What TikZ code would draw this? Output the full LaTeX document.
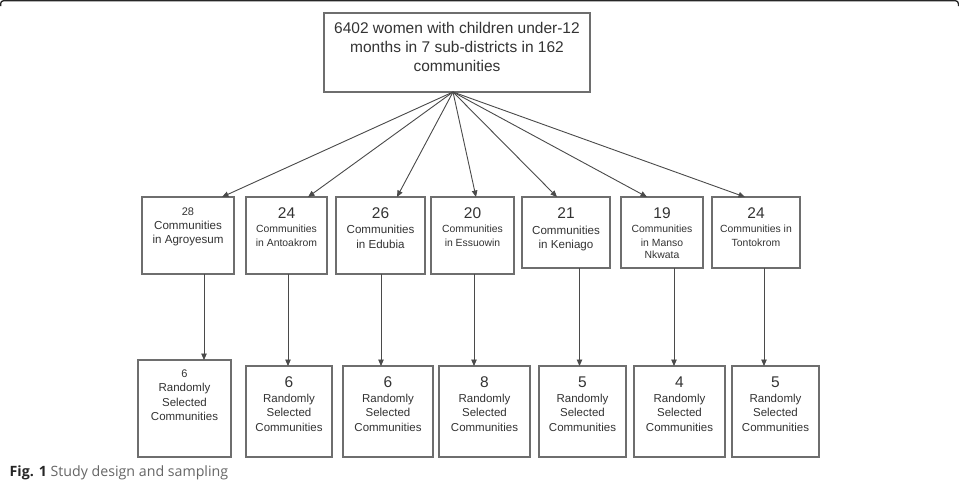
\documentclass[tikz,border=0pt]{standalone}
\usepackage{fontspec}
\setmainfont{Liberation Sans}
\newfontfamily\capfont{Open Sans}
\usetikzlibrary{arrows.meta}
\definecolor{boxc}{HTML}{6E6E6E}
\definecolor{linec}{HTML}{4A4A4A}
\definecolor{txtc}{HTML}{333333}
\definecolor{capc}{HTML}{666666}
\begin{document}
\begin{tikzpicture}[x=1pt,y=-1pt,
  box/.style={draw=boxc, line width=1.1pt, rectangle, inner sep=0pt, outer sep=0pt, anchor=north west},
  tl/.style={anchor=base, inner sep=0pt, text=txtc, font=\fontsize{#1}{#1}\selectfont},
  arr/.style={draw=linec, line width=0.9pt, -{Triangle[length=6.5pt,width=5.5pt]}},
]
\useasboundingbox (0,0) rectangle (959,480);
\clip (0,0) rectangle (959,480);
\fill[white] (0,0) rectangle (959,480);
% frame edge at top
\draw[line width=1.3pt, black!85, rounded corners=3pt] (0.6,6) -- (0.6,0.7) -- (958.4,0.7) -- (958.4,6);

% top box
\node[box, minimum width=266pt, minimum height=79pt] (top) at (324,13) {};
\node[tl=15.5] (t1) at (457,33.5) {6402 women with children under-12};
\node[tl=15.5] (t2) at (457,52.5) {months in 7 sub-districts in 162};
\node[tl=15.5] (t3) at (457,71.5) {communities};
\coordinate (apex) at ([xshift=-4pt]top.south);

% middle boxes
\node[box, minimum width=92pt, minimum height=77pt] (m1) at (142,197) {};
\node[box, minimum width=81pt, minimum height=77pt] (m2) at (246,197) {};
\node[box, minimum width=89pt, minimum height=77pt] (m3) at (336,197) {};
\node[box, minimum width=83pt, minimum height=77pt] (m4) at (431,197) {};
\node[box, minimum width=88pt, minimum height=71pt] (m5) at (522,197) {};
\node[box, minimum width=82pt, minimum height=71pt] (m6) at (621,197) {};
\node[box, minimum width=88pt, minimum height=71pt] (m7) at (712,197) {};

\node[tl=11] (m1a) at (188,215) {28};
\node[tl=11.6] (m1b) at (188,229) {Communities};
\node[tl=11.6] (m1c) at (188,243) {in Agroyesum};

\node[tl=15.5] (m2a) at (286.5,218.5) {24};
\node[tl=10.4] (m2b) at (286.5,232.7) {Communities};
\node[tl=10.4] (m2c) at (286.5,246) {in Antoakrom};

\node[tl=15.5] (m3a) at (380.5,218.5) {26};
\node[tl=11.6] (m3b) at (380.5,233) {Communities};
\node[tl=11.6] (m3c) at (380.5,248) {in Edubia};

\node[tl=15.5] (m4a) at (472.5,218.5) {20};
\node[tl=10.4] (m4b) at (472.5,232.7) {Communities};
\node[tl=10.4] (m4c) at (472.5,246) {in Essuowin};

\node[tl=15.5] (m5a) at (566,218.5) {21};
\node[tl=11.6] (m5b) at (566,234) {Communities};
\node[tl=11.6] (m5c) at (566,248) {in Keniago};

\node[tl=15.5] (m6a) at (662,218.5) {19};
\node[tl=10.4] (m6b) at (662,232.7) {Communities};
\node[tl=10.4] (m6c) at (662,246) {in Manso};
\node[tl=10.4] (m6d) at (662,258.5) {Nkwata};

\node[tl=15.5] (m7a) at (756,218.5) {24};
\node[tl=10.4] (m7b) at (756,232.7) {Communities in};
\node[tl=10.4] (m7c) at (756,246) {Tontokrom};

% bottom boxes
\node[box, minimum width=93pt, minimum height=97pt] (b1) at (138,360) {};
\node[box, minimum width=86pt, minimum height=91pt] (b2) at (246,366) {};
\node[box, minimum width=90pt, minimum height=91pt] (b3) at (343,366) {};
\node[box, minimum width=91pt, minimum height=91pt] (b4) at (439,366) {};
\node[box, minimum width=87pt, minimum height=91pt] (b5) at (539,366) {};
\node[box, minimum width=91pt, minimum height=91pt] (b6) at (634,366) {};
\node[box, minimum width=87pt, minimum height=91pt] (b7) at (732,366) {};

\node[tl=11] (b1a) at (184.5,377) {6};
\node[tl=11.5] (b1b) at (184.5,391) {Randomly};
\node[tl=11.5] (b1c) at (184.5,406) {Selected};
\node[tl=11.5] (b1d) at (184.5,420) {Communities};

\foreach \n/\cx/\v in {2/289/6, 3/388/6, 4/484.5/8, 5/582.5/5, 6/679.5/4, 7/775.5/5}{
  \node[tl=15.5] (b\n a) at (\cx,387.5) {\v};
  \node[tl=11.5] (b\n b) at (\cx,402) {Randomly};
  \node[tl=11.5] (b\n c) at (\cx,416) {Selected};
  \node[tl=11.5] (b\n d) at (\cx,431) {Communities};
}

% arrows from top
\draw[arr] (apex) -- ([xshift=80pt]m1.north west);
\draw[arr] (apex) -- ([xshift=62pt]m2.north west);
\draw[arr] (apex) -- ([xshift=61pt]m3.north west);
\draw[arr] (apex) -- ([xshift=45pt]m4.north west);
\draw[arr] (apex) -- ([xshift=35pt]m5.north west);
\draw[arr] (apex) -- ([xshift=26pt]m6.north west);
\draw[arr] (apex) -- ([xshift=33pt]m7.north west);

% vertical arrows
\foreach \i/\dx in {1/62, 2/42, 3/45, 4/43, 5/57.5, 6/53, 7/52}{
  \draw[arr] ([xshift=\dx pt]m\i.south west) -- ([xshift=\dx pt]m\i.south west |- b\i.north);
}

% caption
\node[anchor=base west, inner sep=0pt] (cap) at (9.5,476.5) {\capfont\fontsize{14.2}{14.2}\selectfont\textbf{\color{black!85}Fig. 1} \color{capc}Study design and sampling};
\end{tikzpicture}
\end{document}
